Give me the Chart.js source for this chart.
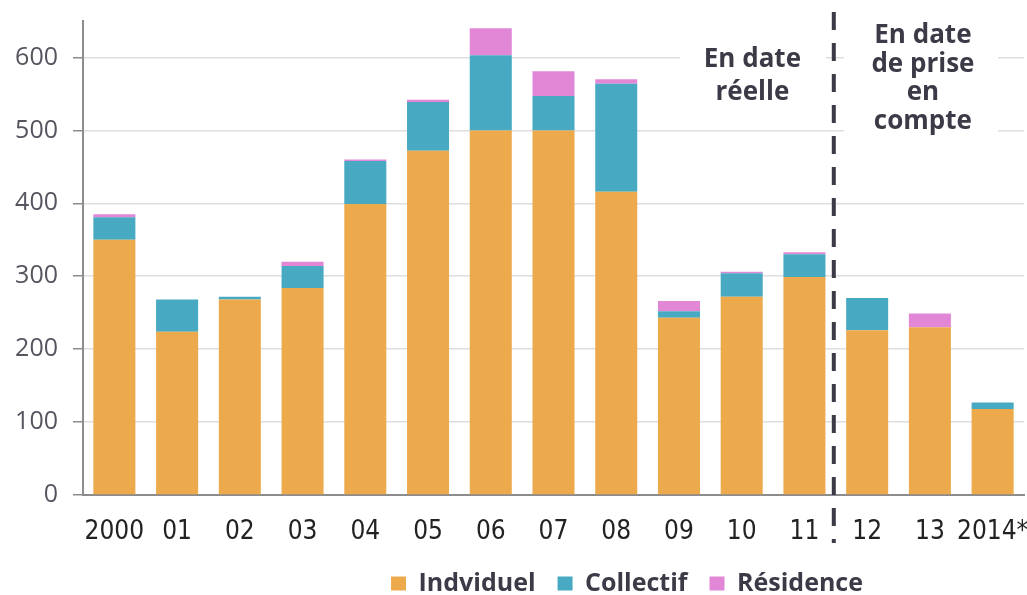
<!DOCTYPE html>
<html>
<head>
<meta charset="utf-8">
<script src="https://cdn.jsdelivr.net/npm/chart.js@4"></script>
<style>
  html, body { margin: 0; padding: 0; background: #fff; }
  #wrap { width: 1027px; height: 595px; position: relative; }
</style>
</head>
<body>
<div id="wrap"><canvas id="chart"></canvas></div>
<script>
// data
const years = ["2000", "01", "02", "03", "04", "05", "06", "07", "08", "09", "10", "11", "12", "13", "2014*"];
const individuel = [350, 224, 268, 284, 399, 472, 500, 500, 416, 243, 272, 299, 226, 230, 118];
const collectif = [31, 44, 4, 30, 59, 67, 103, 47, 148, 9, 32, 31, 44, 0, 9];
const residence = [4, 0, 0, 6, 2, 3, 37, 34, 6, 14, 2, 3, 0, 19, 0];
const yTicks = [0, 100, 200, 300, 400, 500, 600];

const inkColor = "#3d3a47";

// draws the "réelle / prise en compte" split and its captions
const splitPlugin = {
  id: "split",
  afterLayout(chart) {
    // legend sits right of centre in the reference
    chart.legend.left += 115;
    chart.legend.right += 115;
  },
  afterDraw(chart) {
    const ctx = chart.ctx;
    const x = chart.scales.x;
    const area = chart.chartArea;
    const splitX = (x.getPixelForValue(11) + x.getPixelForValue(12)) / 2 - 2;

    ctx.save();
    // white patches behind the captions
    ctx.fillStyle = "#fff";
    ctx.fillRect(680, area.top + 19, splitX - 8 - 680, 66);
    ctx.fillRect(splitX + 10, area.top - 8, 998 - splitX - 10, 122);

    // dashed separator
    ctx.strokeStyle = inkColor;
    ctx.lineWidth = 4;
    ctx.setLineDash([18, 13]);
    ctx.beginPath();
    ctx.moveTo(splitX, 12);
    ctx.lineTo(splitX, 543);
    ctx.stroke();
    ctx.setLineDash([]);

    ctx.fillStyle = inkColor;
    ctx.font = "bold 26px 'Open Sans'";
    ctx.textAlign = "center";
    ctx.textBaseline = "alphabetic";
    const leftX = (x.getPixelForValue(9) + splitX) / 2 - 4;
    ["En date", "réelle"].forEach((t, i) => ctx.fillText(t, leftX, area.top + 46 + i * 33));
    const rightX = (splitX + area.right) / 2 - 6;
    ["En date", "de prise", "en", "compte"].forEach((t, i) => ctx.fillText(t, rightX, area.top + 22 + i * 28.5));
    ctx.restore();
  }
};

new Chart(document.getElementById("chart"), {
  type: "bar",
  data: {
    labels: years,
    datasets: [
      { label: "Indviduel", data: individuel, backgroundColor: "#edaa4d" },
      { label: "Collectif", data: collectif, backgroundColor: "#48a9c2" },
      { label: "Résidence", data: residence, backgroundColor: "#e287d6" }
    ]
  },
  options: {
    responsive: true,
    maintainAspectRatio: false,
    animation: false,
    layout: { padding: { top: 21, right: 3, left: 0, bottom: 0 } },
    datasets: {
      bar: { barPercentage: 0.67, categoryPercentage: 1, borderWidth: 0 }
    },
    plugins: {
      tooltip: { enabled: false },
      legend: {
        position: "bottom",
        maxHeight: 46,
        labels: {
          boxWidth: 15,
          boxHeight: 14,
          padding: 22,
          color: inkColor,
          font: { family: "'Open Sans'", size: 25, weight: "bold" }
        }
      }
    },
    scales: {
      x: {
        stacked: true,
        grid: { display: false, drawTicks: false },
        border: { color: "#8c8c8c", width: 2 },
        ticks: {
          color: "#222",
          padding: 22,
          maxRotation: 0,
          autoSkip: false,
          font: { family: "'DejaVu Sans Condensed', sans-serif", size: 26 }
        },
        afterFit(scale) {
          scale.height = 54;
          scale.paddingLeft = 0;
          scale.paddingRight = 0;
        }
      },
      y: {
        stacked: true,
        min: 0,
        max: 650,
        afterBuildTicks(scale) {
          scale.ticks = yTicks.map(v => ({ value: v }));
        },
        grid: { color: "#dedede", lineWidth: 1.5, tickLength: 10, tickColor: "#8c8c8c" },
        border: { color: "#8c8c8c", width: 2 },
        ticks: {
          color: "#58545f",
          padding: 15,
          font: { family: "'Open Sans'", size: 25 }
        },
        afterFit(scale) {
          scale.width = 83;
          scale.paddingTop = 0;
          scale.paddingBottom = 0;
        }
      }
    }
  },
  plugins: [splitPlugin]
});
</script>
</body>
</html>
